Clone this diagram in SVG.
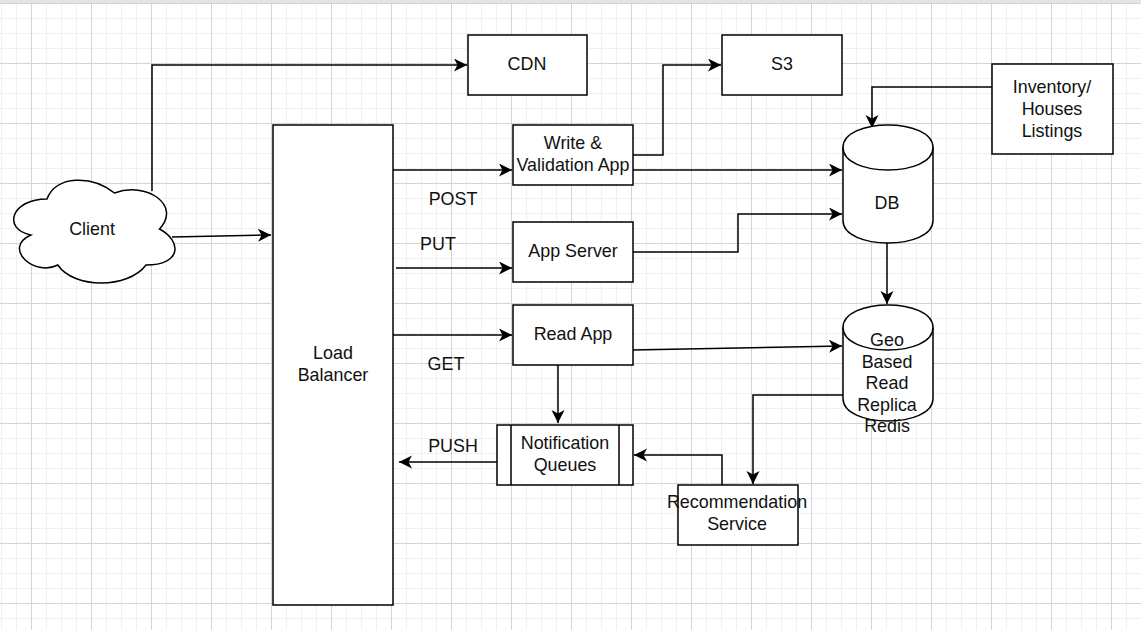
<svg xmlns="http://www.w3.org/2000/svg" width="1141" height="630" viewBox="0 0 1141 630">
<style>
.n{fill:#fff;stroke:#000;stroke-width:1.5}
.t{font-family:"Liberation Sans",Arial,Helvetica,sans-serif;font-size:17.9px;fill:#111;text-anchor:middle}
.c{fill:none;stroke:#000;stroke-width:1.5;marker-end:url(#arr)}
</style>
<defs>
<pattern id="minor" x="1" y="3" width="15" height="15" patternUnits="userSpaceOnUse">
<path d="M0.5,0V15M0,0.5H15" stroke="#f0f0f0" stroke-width="1" fill="none"/>
</pattern>
<pattern id="major" x="31" y="3" width="60" height="60" patternUnits="userSpaceOnUse">
<path d="M0.5,0V60M0,0.5H60" stroke="#d4d4d4" stroke-width="1" fill="none"/>
</pattern>
<marker id="arr" markerWidth="14" markerHeight="14" refX="13" refY="6.5" orient="auto" markerUnits="userSpaceOnUse">
<path d="M0,0 L13,6.5 L0,13 L3.5,6.5 Z" fill="#000"/>
</marker>
</defs>
<rect width="1141" height="630" fill="#fff"/>
<rect width="1141" height="630" fill="url(#minor)"/>
<rect width="1141" height="630" fill="url(#major)"/>
<rect width="1141" height="3" fill="#e4e4e4"/>

<g id="connectors">
<path class="c" d="M152,191 V65 H467"/>
<path class="c" d="M172,237 L271,235"/>
<path class="c" d="M393,170 H512"/>
<path class="c" d="M396,268 H512"/>
<path class="c" d="M393,335 H512"/>
<path class="c" d="M497,462 H399"/>
<path class="c" d="M633,155 H663 V65 H721"/>
<path class="c" d="M633,170 H842"/>
<path class="c" d="M633,252 H738 V214 H842"/>
<path class="c" d="M633,350 L842,346"/>
<path class="c" d="M558,365 V423"/>
<path class="c" d="M992,87 H872 V128"/>
<path class="c" d="M887,243 V304"/>
<path class="c" d="M843,395 H753 V484"/>
<path class="c" d="M722,485 V455 H634"/>
</g>

<g id="client">
<path class="n" d="M47,199 C11,199 2,229 30.8,235 C2,248.2 34.4,277 57.8,265 C74,289 128,289 146,265 C182,265 182,241 159.5,229 C182,205 146,181 114.5,193 C92,175 56,175 47,199 Z"/>
<text class="t" x="92" y="235">Client</text>
</g>

<g id="cdn">
<rect class="n" x="468" y="35" width="119" height="60"/>
<text class="t" x="527" y="70">CDN</text>
</g>

<g id="s3">
<rect class="n" x="722" y="35" width="120" height="60"/>
<text class="t" x="782" y="70">S3</text>
</g>

<g id="inventory">
<rect class="n" x="992" y="64" width="121" height="90"/>
<text class="t" x="1052" y="93">Inventory/</text>
<text class="t" x="1052" y="115">Houses</text>
<text class="t" x="1052" y="136.5">Listings</text>
</g>

<g id="load-balancer">
<rect class="n" x="273" y="125" width="120" height="480"/>
<text class="t" x="333" y="359">Load</text>
<text class="t" x="333" y="380.5">Balancer</text>
</g>

<g id="write-app">
<rect class="n" x="513" y="125" width="120" height="60"/>
<text class="t" x="573" y="149">Write &amp;</text>
<text class="t" x="573" y="171">Validation App</text>
</g>

<g id="app-server">
<rect class="n" x="513" y="222" width="120" height="60"/>
<text class="t" x="573" y="257">App Server</text>
</g>

<g id="read-app">
<rect class="n" x="513" y="305" width="120" height="60"/>
<text class="t" x="573" y="340">Read App</text>
</g>

<g id="notification-queues">
<rect class="n" x="497" y="425" width="136" height="60"/>
<path d="M511,425V485M619,425V485" stroke="#000" stroke-width="1.5" fill="none"/>
<text class="t" x="565" y="449">Notification</text>
<text class="t" x="565" y="471">Queues</text>
</g>

<g id="recommendation">
<rect class="n" x="678" y="485" width="120" height="60"/>
<text class="t" x="737" y="508">Recommendation</text>
<text class="t" x="737" y="530">Service</text>
</g>

<g id="db">
<path class="n" d="M843,147.5 C843,117.5 933,117.5 933,147.5 V220.5 C933,250.5 843,250.5 843,220.5 Z"/>
<path d="M843,147.5 C843,177.5 933,177.5 933,147.5" fill="none" stroke="#000" stroke-width="1.5"/>
<text class="t" x="887" y="209">DB</text>
</g>

<g id="geo-replica">
<path class="n" d="M843,327.5 C843,297.5 933,297.5 933,327.5 V398.5 C933,428.5 843,428.5 843,398.5 Z"/>
<path d="M843,327.5 C843,357.5 933,357.5 933,327.5" fill="none" stroke="#000" stroke-width="1.5"/>
<text class="t" x="887" y="346">Geo</text>
<text class="t" x="887" y="367.5">Based</text>
<text class="t" x="887" y="389">Read</text>
<text class="t" x="887" y="410.5">Replica</text>
<text class="t" x="887" y="432">Redis</text>
</g>

<g id="labels">
<text class="t" x="453" y="205">POST</text>
<text class="t" x="438" y="250">PUT</text>
<text class="t" x="446" y="370">GET</text>
<text class="t" x="453" y="451.5">PUSH</text>
</g>
</svg>
